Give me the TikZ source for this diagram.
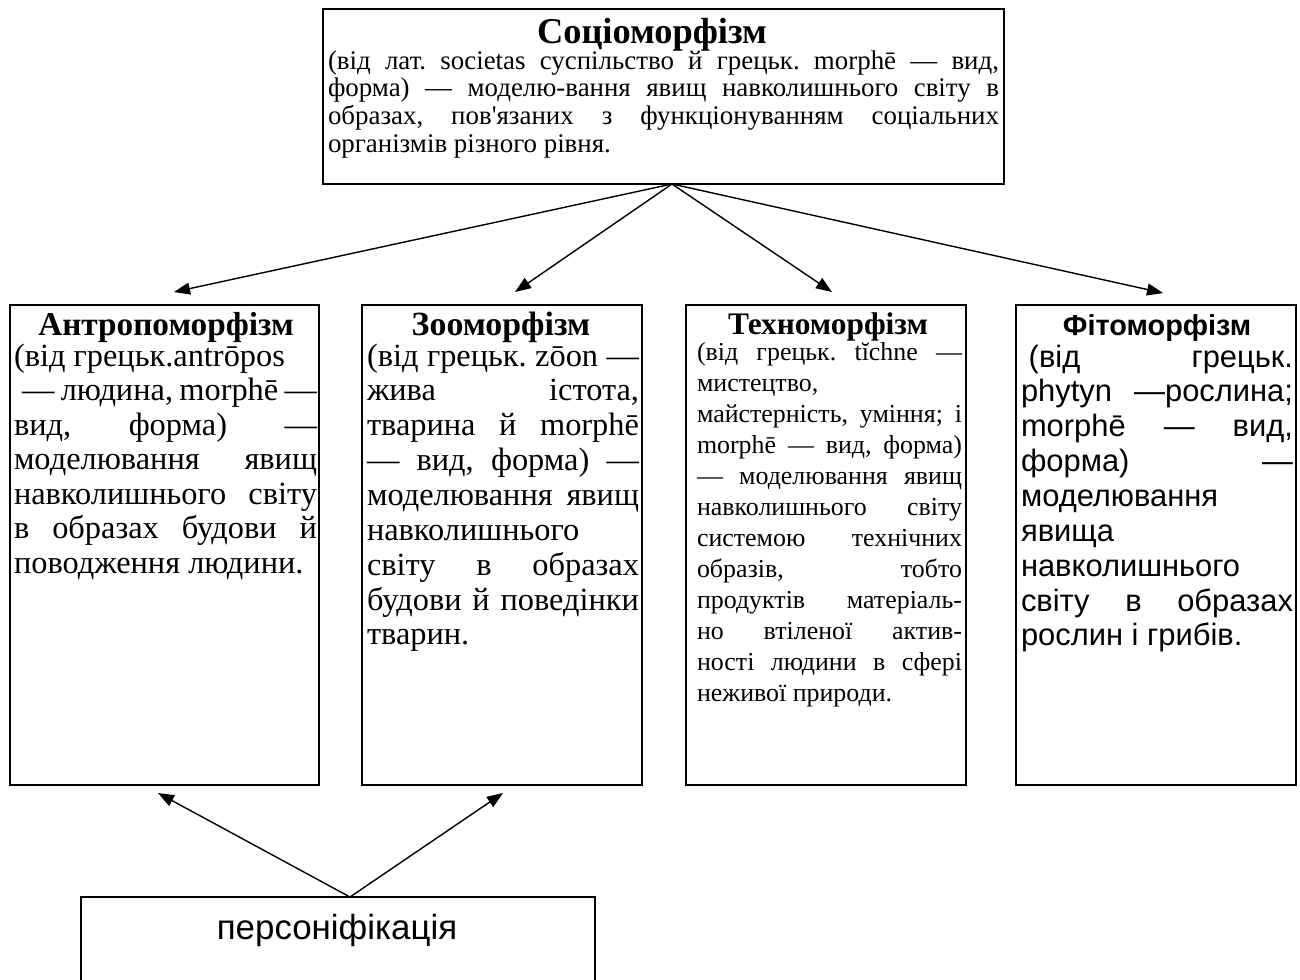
\documentclass[tikz,border=0pt]{standalone}
\usepackage{fontspec}
\newfontfamily\tnr{Liberation Serif}
\newfontfamily\arl{Liberation Sans}
\usetikzlibrary{arrows.meta}
\newcommand{\jline}[1]{\hbox to\hsize{#1}}
\newcommand{\lline}[1]{\hbox to\hsize{#1\hfil}}
\begin{document}
\begin{tikzpicture}[x=1bp,y=-1bp,
  box/.style={draw, line width=1.3bp, inner sep=0, outer sep=0, anchor=north west},
  txt/.style={inner sep=0, outer sep=0, anchor=base west},
  ttl/.style={inner sep=0, outer sep=0, anchor=base},
  arr/.style={-{Triangle[length=16bp,width=12bp]}, line width=1.4bp}]
\useasboundingbox (0,0) rectangle (1300,979);
% boxes
\node[box, minimum width=681bp, minimum height=175bp] (soc) at (323,9) {};
\node[box, minimum width=309bp, minimum height=480bp] (b1) at (10,305) {};
\node[box, minimum width=280bp, minimum height=480bp] (b2) at (362,305) {};
\node[box, minimum width=280bp, minimum height=480bp] (b3) at (686,305) {};
\node[box, minimum width=280bp, minimum height=480bp] (b4) at (1016,305) {};
\node[box, minimum width=514bp, minimum height=120bp] (pers) at (81,897) {};
% top box text
\node[ttl, font=\tnr\bfseries\fontsize{36.5}{40}\selectfont] (socT) at (652,43) {Соціоморфізм};
\node[txt] (socB) at (328,69) {\vtop{\hsize=671bp\frenchspacing\tnr\fontsize{27}{28}\selectfont
\jline{(від лат. societas суспільство й грецьк. morphē — вид,}
\jline{форма) — моделю-вання явищ навколишнього світу в}
\jline{образах, пов'язаних з функціонуванням соціальних}
\lline{організмів різного рівня.}}};
% box 1
\node[ttl, font=\tnr\bfseries\fontsize{33.4}{40}\selectfont] (b1T) at (166,335) {Антропоморфізм};
\node[txt] (b1B) at (14,366) {\vtop{\hsize=303bp\frenchspacing\tnr\fontsize{32.5}{34.7}\selectfont
\lline{(від грецьк.antrōpos}
\jline{\kern.25em— людина, morphē —}
\jline{вид, форма) —}
\jline{моделювання явищ}
\jline{навколишнього світу}
\jline{в образах будови й}
\lline{поводження людини.}}};
% box 2
\node[ttl, font=\tnr\bfseries\fontsize{34}{40}\selectfont] (b2T) at (501,335) {Зооморфізм};
\node[txt] (b2B) at (367,366) {\vtop{\hsize=272bp\frenchspacing\tnr\fontsize{32.5}{35}\selectfont
\jline{(від грецьк. zōon —}
\jline{жива істота,}
\jline{тварина й morphē}
\jline{— вид, форма) —}
\jline{моделювання явищ}
\lline{навколишнього}
\jline{світу в образах}
\jline{будови й поведінки}
\lline{тварин.}}};
% box 3
\node[ttl, font=\tnr\bfseries\fontsize{31.5}{40}\selectfont] (b3T) at (828,334) {Техноморфізм};
\node[txt] (b3B) at (697,360) {\vtop{\hsize=265bp\frenchspacing\tnr\fontsize{26}{31.2}\selectfont
\jline{(від грецьк. tĭchne —}
\lline{мистецтво,}
\jline{майстерність, уміння; і}
\jline{morphē — вид, форма)}
\jline{— моделювання явищ}
\jline{навколишнього світу}
\jline{системою технічних}
\jline{образів, тобто}
\jline{продуктів матеріаль-}
\jline{но втіленої актив-}
\jline{ності людини в сфері}
\lline{неживої природи.}}};
% box 4
\node[ttl, font=\arl\bfseries\fontsize{29}{34}\selectfont] (b4T) at (1157,335) {Фітоморфізм};
\node[txt] (b4B) at (1021,367) {\vtop{\hsize=272bp\frenchspacing\arl\fontsize{31}{35}\selectfont
\jline{\kern.25em(від грецьк.}
\jline{phytyn —рослина;}
\jline{morphē — вид,}
\jline{форма) —}
\lline{моделювання}
\lline{явища}
\lline{навколишнього}
\jline{світу в образах}
\lline{рослин і грибів.}}};
% bottom text
\node[ttl, font=\arl\fontsize{35}{40}\selectfont] (persT) at (337,939) {персоніфікація};
% connectors
\coordinate (src) at (672,184);
\coordinate (e1) at (174,292);
\coordinate (e2) at (515,292);
\coordinate (e3) at (832,292);
\coordinate (e4) at (1163,293);
\draw[arr] (src) -- (e1);
\draw[arr] (src) -- (e2);
\draw[arr] (src) -- (e3);
\draw[arr] (src) -- (e4);
\coordinate (psrc) at (350,897);
\coordinate (p1) at (158,793);
\coordinate (p2) at (503,793);
\draw[arr] (psrc) -- (p1);
\draw[arr] (psrc) -- (p2);
\end{tikzpicture}
\end{document}
